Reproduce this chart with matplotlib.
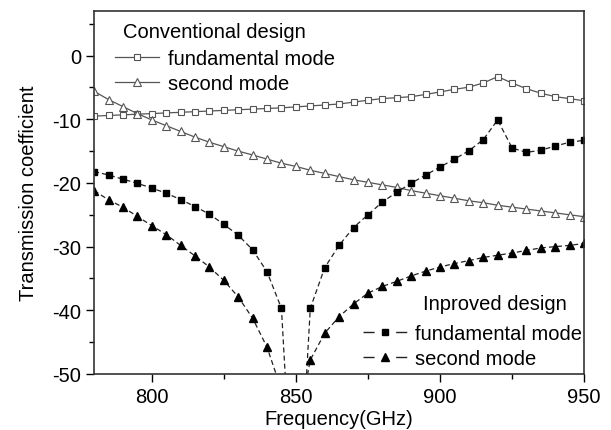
import matplotlib
matplotlib.use('Agg')
import matplotlib.pyplot as plt
from matplotlib.lines import Line2D

plt.rcParams['font.family'] = ['Liberation Sans', 'DejaVu Sans']
plt.rcParams['axes.unicode_minus'] = False

# frequency points (GHz), every 5 GHz
freq = list(range(780, 955, 5))

# conventional design
conv_fund = [-9.5, -9.4, -9.3, -9.2, -9.1, -9.0, -8.9, -8.8, -8.7, -8.6,
             -8.5, -8.4, -8.3, -8.2, -8.05, -7.9, -7.75, -7.6, -7.3, -7.0,
             -6.75, -6.6, -6.45, -6.1, -5.7, -5.3, -4.95, -4.3, -3.3, -4.3,
             -5.2, -5.9, -6.45, -6.75, -7.1]
conv_second = [-5.6, -6.9, -8.0, -9.1, -10.1, -11.0, -11.9, -12.8, -13.6, -14.3,
               -15.0, -15.6, -16.25, -16.9, -17.4, -18.0, -18.5, -19.0, -19.5, -19.9,
               -20.3, -20.7, -21.2, -21.6, -22.0, -22.4, -22.8, -23.1, -23.5, -23.8,
               -24.1, -24.4, -24.7, -25.0, -25.3]

# improved design
imp_fund = [-18.2, -18.75, -19.4, -20.05, -20.8, -21.6, -22.6, -23.7, -24.9, -26.5,
            -28.2, -30.5, -33.95, -39.7, -80.0, -39.7, -33.3, -29.8, -27.0, -25.0,
            -23.0, -21.45, -20.05, -18.75, -17.5, -16.25, -14.95, -13.2, -10.1, -14.5,
            -15.2, -14.85, -14.2, -13.6, -13.3]
imp_second = [-21.2, -22.65, -23.8, -25.25, -26.7, -28.1, -29.8, -31.45, -33.2, -35.3,
              -37.9, -41.25, -45.8, -52.5, -60.0, -47.8, -43.6, -41.0, -39.0, -37.3,
              -36.25, -35.45, -34.6, -33.85, -33.2, -32.65, -32.2, -31.7, -31.35, -31.0,
              -30.6, -30.2, -30.0, -29.8, -29.5]

fs = 14.5

fig = plt.figure(figsize=(6.11, 4.31), dpi=100)
ax = fig.add_axes([0.154, 0.130, 0.802, 0.842])

gray = '#555555'
ax.plot(freq, conv_fund, '-', color=gray, lw=0.9, marker='s', ms=4.3,
        mfc='white', mec=gray, mew=0.8)
ax.plot(freq, conv_second, '-', color=gray, lw=0.9, marker='^', ms=5.5,
        mfc='white', mec=gray, mew=0.8)
ax.plot(freq, imp_fund, '--', color='#222222', lw=0.9, dashes=(4, 2.5), marker='s', ms=4.8,
        mfc='black', mec='black')
ax.plot(freq, imp_second, '--', color='#222222', lw=0.9, dashes=(4, 2.5), marker='^', ms=5.5,
        mfc='black', mec='black')

ax.set_xlim(780, 950)
ax.set_ylim(-50, 7)
ax.set_xticks([800, 850, 900, 950])
ax.set_xticks([825, 875, 925], minor=True)
ax.set_yticks([0, -10, -20, -30, -40, -50])
ax.set_yticks([5, -5, -15, -25, -35, -45], minor=True)
ax.tick_params(axis='both', which='major', direction='out', length=6, width=1, labelsize=fs)
ax.tick_params(axis='both', which='minor', direction='out', length=3.5, width=1)
for s in ax.spines.values():
    s.set_linewidth(1.2)
    s.set_color('#333333')

ax.set_xlabel('Frequency(GHz)', fontsize=fs, labelpad=2)
ax.set_ylabel('Transmission coefficient', fontsize=fs, labelpad=10)

# legend proxies
h1 = Line2D([], [], color=gray, lw=0.9, marker='s', ms=4.3, mfc='white', mec=gray, mew=0.8)
h2 = Line2D([], [], color=gray, lw=0.9, marker='^', ms=5.5, mfc='white', mec=gray, mew=0.8)
h3 = Line2D([], [], color='#222222', lw=1.0, linestyle=(0, (8.0, 15.5)), marker='s', ms=4.5,
            mfc='black', mec='black')
h4 = Line2D([], [], color='#222222', lw=1.0, linestyle=(0, (8.0, 15.5)), marker='^', ms=5.5,
            mfc='black', mec='black')

ax.text(0.059, 0.945, 'Conventional design', transform=ax.transAxes,
        fontsize=fs, ha='left', va='center')
leg1 = ax.legend([h1, h2], ['fundamental mode', 'second mode'], loc='center left',
                 bbox_to_anchor=(0.043, 0.836), frameon=False, fontsize=fs,
                 handlelength=2.2, handletextpad=0.4, labelspacing=0.3,
                 borderpad=0, borderaxespad=0)
ax.add_artist(leg1)

ax.text(0.671, 0.193, 'Inproved design', transform=ax.transAxes,
        fontsize=fs, ha='left', va='center')
ax.legend([h3, h4], ['fundamental mode', 'second mode'], loc='center left',
          bbox_to_anchor=(0.549, 0.076), frameon=False, fontsize=fs,
          handlelength=2.2, handletextpad=0.4, labelspacing=0.3,
          borderpad=0, borderaxespad=0)

fig.savefig('out.png', dpi=100)
